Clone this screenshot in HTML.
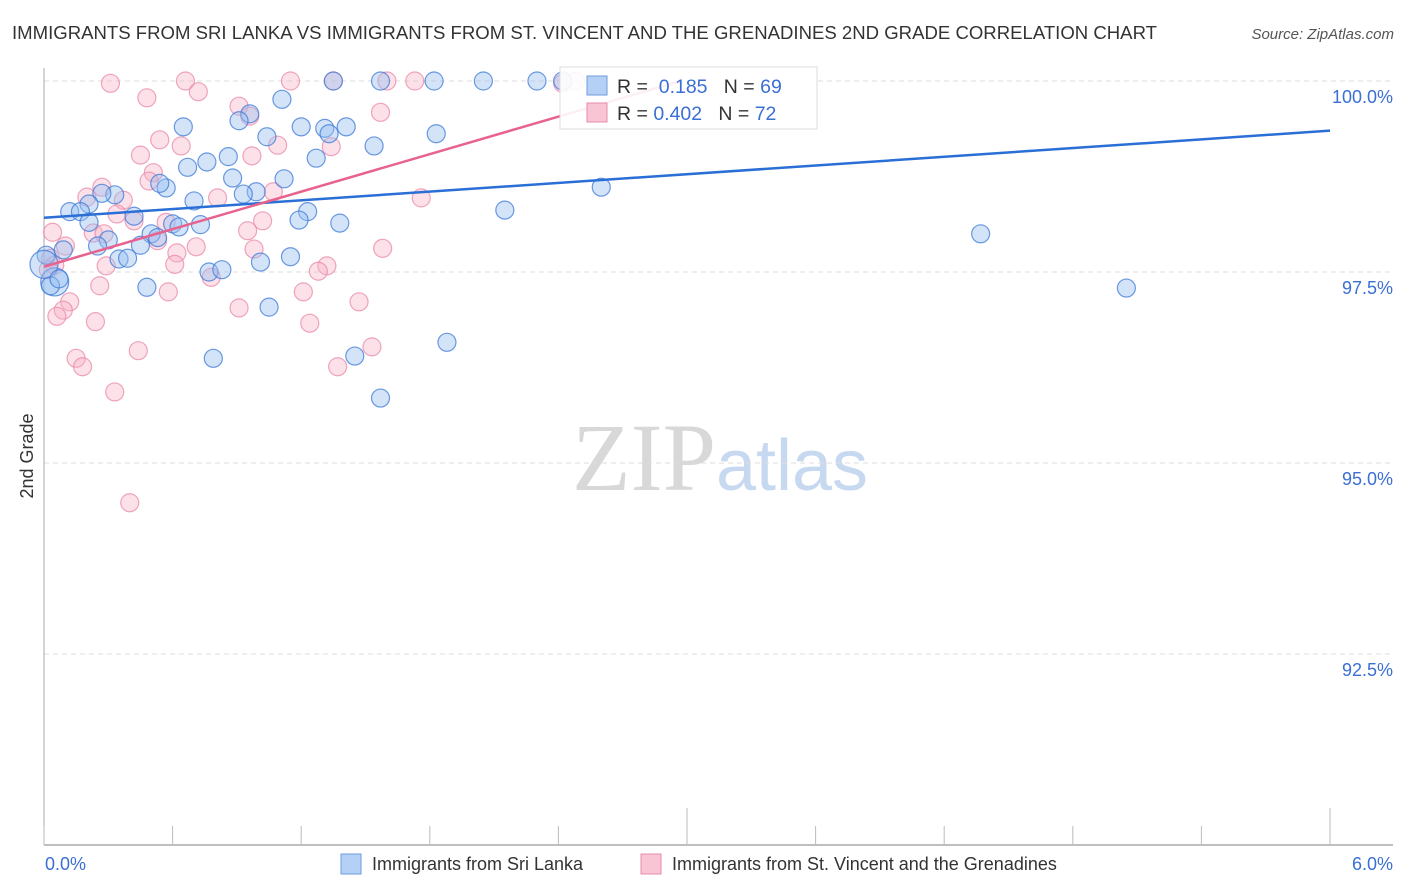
<!DOCTYPE html>
<html><head><meta charset="utf-8"><style>
body{margin:0;background:#fff;font-family:"Liberation Sans",sans-serif;}
svg{display:block}
</style></head><body>
<svg id="chart" width="1406" height="892" xmlns="http://www.w3.org/2000/svg">
<text x="12" y="39" font-size="18.6" fill="#333" textLength="1145" lengthAdjust="spacingAndGlyphs">IMMIGRANTS FROM SRI LANKA VS IMMIGRANTS FROM ST. VINCENT AND THE GRENADINES 2ND GRADE CORRELATION CHART</text>
<text x="1394" y="39" font-size="15" fill="#555" font-style="italic" text-anchor="end">Source: ZipAtlas.com</text>
<text x="720" y="490" font-size="96" text-anchor="middle"><tspan font-family="Liberation Serif,serif" fill="#d8d8d8">ZIP</tspan><tspan fill="#c7d9f0" font-size="72">atlas</tspan></text>
<text transform="translate(33,456) rotate(-90)" font-size="18" fill="#333" text-anchor="middle">2nd Grade</text>
<g id="grid"></g><g id="axes"></g><g id="pts"></g><g id="lines"></g>
<g>
<rect x="560" y="67" width="257" height="62" fill="#fff" fill-opacity="0.9" stroke="#ddd"/>
<rect x="587" y="76" width="20" height="19" fill="#b5d0f5" stroke="#6f9be0"/>
<text x="617" y="93" font-size="19.5" fill="#333">R = <tspan fill="#3b6fd4">&#160;0.185</tspan>&#160;&#160;&#160;N = <tspan fill="#3b6fd4">69</tspan></text>
<rect x="587" y="103" width="20" height="19" fill="#f9c5d4" stroke="#e88ca8"/>
<text x="617" y="120" font-size="19.5" fill="#333">R = <tspan fill="#3b6fd4">0.402</tspan>&#160;&#160;&#160;N = <tspan fill="#3b6fd4">72</tspan></text>
</g>
<text x="45" y="870" font-size="18" fill="#3b6fd4">0.0%</text>
<text x="1393" y="870" font-size="18" fill="#3b6fd4" text-anchor="end">6.0%</text>
<g><rect x="341" y="854" width="20" height="20" fill="#b5d0f5" stroke="#6f9be0"/><text x="372" y="870" font-size="18" fill="#333">Immigrants from Sri Lanka</text></g>
<g><rect x="641" y="854" width="20" height="20" fill="#f9c5d4" stroke="#e88ca8"/><text x="672" y="870" font-size="18" fill="#333">Immigrants from St. Vincent and the Grenadines</text></g>
</svg>
<script>
const blueX=[1.35,1.57,1.82,2.05,2.30,2.42,1.11,0.96,0.91,0.65,1.20,1.31,1.41,1.33,1.83,1.04,1.54,0.86,0.76,1.27,0.67,0.88,1.12,0.57,0.54,0.99,0.93,0.33,0.27,0.70,2.60,0.21,0.12,0.17,1.23,2.15,0.42,1.19,1.38,0.21,0.60,0.73,0.63,0.50,0.53,4.37,0.30,0.45,0.25,0.09,0.01,1.15,0.35,0.39,1.01,0.77,0.83,0.05,0.03,0.48,1.05,1.88,0.79,1.45,1.57,5.05,0.00,0.07];
const blueY=[100,100,100,100,100,100,99.76,99.57,99.48,99.40,99.40,99.38,99.40,99.31,99.31,99.27,99.15,99.01,98.94,98.99,98.87,98.73,98.72,98.60,98.66,98.55,98.52,98.51,98.53,98.43,98.61,98.39,98.29,98.29,98.29,98.31,98.23,98.18,98.14,98.15,98.13,98.12,98.09,98.00,97.95,98.00,97.92,97.85,97.84,97.79,97.72,97.70,97.67,97.68,97.63,97.50,97.53,97.37,97.32,97.30,97.04,96.58,96.37,96.40,95.85,97.29,97.60,97.41];
const pinkX=[0.31,0.66,1.15,1.35,1.60,1.73,2.42,2.48,0.72,0.48,0.91,1.57,0.96,0.54,0.64,1.09,1.34,0.45,0.97,0.51,0.49,0.27,0.20,1.07,0.81,0.37,1.76,0.34,0.57,0.42,1.02,0.23,0.28,0.95,0.53,0.62,0.10,0.98,1.58,0.03,0.05,0.02,0.29,0.61,1.32,1.28,0.78,0.26,0.58,1.21,0.12,1.47,0.91,0.09,0.06,0.24,1.24,1.53,0.44,0.15,0.18,1.37,0.33,0.40,0.71,0.04];
const pinkY=[99.97,100,100,100,100,100,99.97,100,99.86,99.78,99.67,99.59,99.54,99.23,99.15,99.16,99.14,99.03,99.02,98.80,98.69,98.61,98.48,98.55,98.47,98.44,98.47,98.26,98.15,98.17,98.17,98.01,98.00,98.04,97.91,97.75,97.84,97.80,97.81,97.68,97.59,97.53,97.58,97.60,97.58,97.51,97.43,97.32,97.24,97.24,97.11,97.11,97.03,97.00,96.92,96.85,96.83,96.52,96.47,96.37,96.26,96.26,95.93,94.48,97.83,98.02];
const blueTrend=[98.21,99.35];
const pinkTrend=[97.57,100.0,2.97];
const yTicks=[100,97.5,95,92.5];
const yTickLabels=["100.0%","97.5%","95.0%","92.5%"];
const xTicks=[0,0.6,1.2,1.8,2.4,3.0,3.6,4.2,4.8,5.4,6.0];

const NS="http://www.w3.org/2000/svg";
const sx=v=>44+v*1286/6;
const sy=v=>81+(100-v)*76.4;
function mk(tag,attrs,parent){const e=document.createElementNS(NS,tag);for(const k in attrs)e.setAttribute(k,attrs[k]);parent.appendChild(e);return e;}
const grid=document.getElementById('grid'),axes=document.getElementById('axes'),pts=document.getElementById('pts'),lines=document.getElementById('lines');
yTicks.forEach((t,i)=>{
  const l=mk('line',{x1:44,x2:1393,y1:sy(t),y2:sy(t),stroke:'#ddd','stroke-dasharray':'5,4'},grid);
  
  
  const tx=mk('text',{x:1393,y:sy(t)+22,'font-size':18,fill:'#3b6fd4','text-anchor':'end'},grid);
  tx.textContent=yTickLabels[i];
  
  
});
const ax=mk('line',{x1:44,x2:1393,y1:845,y2:845,stroke:'#aaa','stroke-width':1.5},axes);


const ay=mk('line',{x1:44,x2:44,y1:68,y2:845,stroke:'#aaa'},axes);


xTicks.forEach((t,i)=>{
  const tall=(i===5||i===10);
  const l=mk('line',{x1:sx(t),x2:sx(t),y1:tall?808:826,y2:845,stroke:'#bbb'},axes);
  
  
});
function dots(X,Y,fill,stroke,name,bigIdx){
  X.forEach((x,i)=>{
    const big=bigIdx.indexOf(i)>=0;
    const c=mk('circle',{cx:sx(x),cy:sy(Y[i]),r:big?14:9,fill:fill,stroke:stroke,'stroke-width':1.2},pts);
    
    
  });
}
dots(pinkX,pinkY,'rgba(246,176,198,0.38)','rgba(232,130,162,0.7)','st-vincent-point',[]);
dots(blueX,blueY,'rgba(150,190,240,0.42)','rgba(60,120,215,0.75)','sri-lanka-point',[57,66]);
const bl=mk('line',{x1:sx(0),y1:sy(blueTrend[0]),x2:sx(6),y2:sy(blueTrend[1]),stroke:'#2a6fd6','stroke-width':2.5},lines);


const pl=mk('line',{x1:sx(0),y1:sy(pinkTrend[0]),x2:sx(pinkTrend[2]),y2:sy(pinkTrend[1]),stroke:'#e8628e','stroke-width':2.5},lines);


</script>
</body></html>
